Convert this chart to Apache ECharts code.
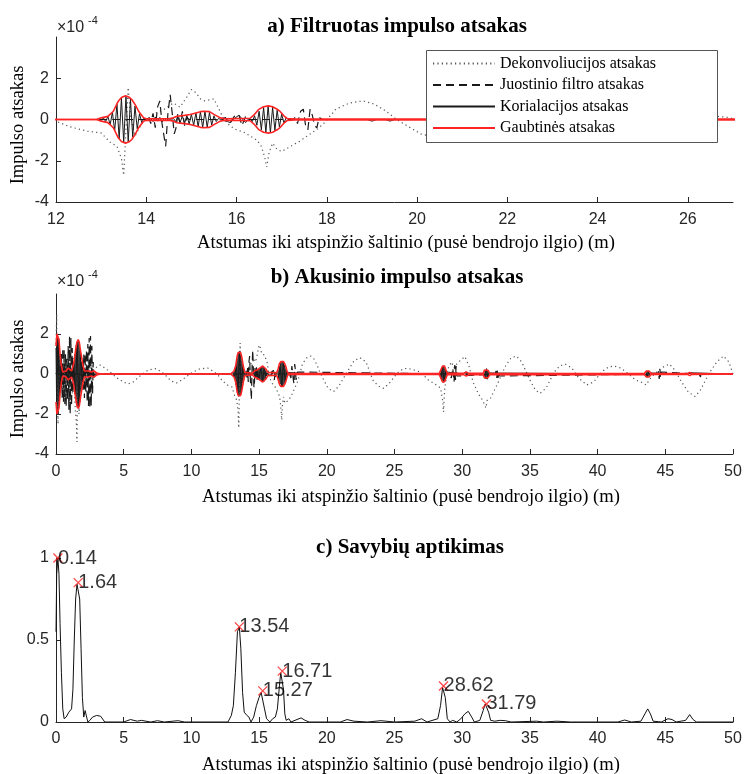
<!DOCTYPE html>
<html><head><meta charset="utf-8">
<script src="https://cdn.jsdelivr.net/npm/echarts@6/dist/echarts.min.js"></script>
<style>html,body{margin:0;padding:0;background:#fff}#c{width:744px;height:774px}</style>
</head><body><div id="c"></div>
<script>
// ---------- DATA ----------
const xTicksA = [12,14,16,18,20,22,24,26];
const yTicksAB = [-4,-2,0,2];
const xTicksBC = [0,5,10,15,20,25,30,35,40,45,50];
const yTicksC = [0,0.5,1];
const seriesNames = ['Dekonvoliucijos atsakas','Juostinio filtro atsakas','Korialacijos atsakas','Gaubtinės atsakas'];

// Dekonvoliucijos atsakas (x m, value x1e-4)
const dekData = [[0,1.5],[0.05,3.0],[0.1,-1.0],[0.15,-2.5],[0.2,1.2],[0.3,-0.8],[0.4,0.6],[0.5,-1.0],[0.6,0.5],[0.7,-0.8],[0.8,-1.2],[0.9,0.4],[1.0,-1.6],[1.1,0.3],[1.2,-1.0],[1.3,0.8],[1.4,-1.5],[1.5,-2.4],[1.55,-3.4],[1.6,0.5],[1.7,-2.0],[1.8,-0.5],[1.9,0.8],[2.0,-0.6],[2.1,0.3],[2.2,-0.4],[2.4,0.6],[2.5,-0.3],[2.6,0.9],[2.7,0.2],[2.9,0.3],[3.0,0.35],[3.25,0.45],[3.6,0.3],[4.0,0.1],[4.5,-0.2],[5.0,-0.4],[5.3,-0.5],[5.7,-0.4],[6.2,-0.1],[6.8,0.2],[7.4,0.27],[8.0,0.0],[8.5,-0.35],[8.9,-0.45],[9.4,-0.25],[10.0,0.05],[10.6,0.25],[11.2,0.3],[11.7,0.1],[12.0,-0.08],[12.3,-0.35],[12.7,-0.57],[13.0,-0.65],[13.2,-1.1],[13.35,-1.3],[13.45,-1.9],[13.5,-2.7],[13.55,-0.5],[13.6,1.55],[13.65,0.2],[13.75,-0.8],[13.9,-0.2],[14.0,0.0],[14.2,0.3],[14.4,0.5],[14.6,0.8],[14.75,0.6],[14.9,1.1],[15.0,1.45],[15.1,1.3],[15.2,1.0],[15.3,0.9],[15.4,0.95],[15.5,1.0],[15.6,0.55],[15.7,0.1],[15.85,-0.3],[16.0,-0.5],[16.15,-0.6],[16.3,-0.8],[16.45,-1.0],[16.55,-1.3],[16.62,-1.8],[16.67,-2.3],[16.72,-1.6],[16.8,-1.15],[16.9,-1.45],[17.0,-1.55],[17.2,-1.3],[17.4,-1.05],[17.6,-0.75],[17.8,-0.45],[17.95,-0.15],[18.2,0.5],[18.5,0.8],[18.8,0.9],[19.05,0.75],[19.3,0.42],[19.55,0.0],[19.85,-0.4],[20.1,-0.72],[20.5,-0.88],[20.9,-0.6],[21.5,0.1],[22.0,0.65],[22.45,0.82],[22.9,0.6],[23.4,-0.3],[23.8,-0.6],[24.2,-0.72],[24.7,-0.4],[25.2,0.05],[25.7,0.28],[26.2,0.25],[26.9,0.1],[27.5,-0.3],[28.1,-0.55],[28.4,-0.7],[28.55,-1.3],[28.62,-1.9],[28.7,-0.8],[28.9,0.2],[29.2,0.6],[29.4,0.3],[29.6,0.5],[29.9,0.7],[30.2,0.87],[30.5,0.4],[30.8,-0.4],[31.2,-1.0],[31.5,-1.3],[31.75,-1.7],[31.85,-1.3],[32.1,-1.2],[32.6,-0.5],[33.2,0.4],[33.6,0.8],[34.0,0.9],[34.4,0.6],[35.0,-0.3],[35.4,-0.8],[35.75,-0.97],[36.2,-0.7],[36.8,0.1],[37.2,0.4],[37.6,0.5],[38.1,0.3],[38.6,-0.2],[39.2,-0.55],[39.7,-0.4],[40.3,0.1],[40.8,0.35],[41.2,0.4],[41.7,0.3],[42.3,0.0],[42.8,-0.3],[43.2,-0.4],[43.6,-0.55],[43.8,-0.3],[44.2,0.0],[44.7,0.3],[45.0,0.4],[45.3,0.5],[45.7,0.2],[46.2,-0.4],[46.7,-0.9],[47.2,-1.13],[47.6,-0.8],[48.2,0.0],[48.8,0.6],[49.3,0.9],[49.7,0.6],[50.0,0.0]];

// Juostinio filtro atsakas
const juoData = [[0,0],[0.3,0.5],[0.35,-0.8],[0.4,1.0],[0.45,-1.2],[0.5,1.3],[0.55,-1.4],[0.6,1.2],[0.65,-1.5],[0.7,1.0],[0.75,-1.6],[0.8,0.8],[0.85,-1.3],[0.9,1.4],[0.95,-1.8],[1.0,1.9],[1.05,-2.0],[1.1,1.8],[1.15,-1.6],[1.2,1.3],[1.25,-1.0],[1.3,0.6],[1.35,0],[1.9,0],[1.95,0.4],[2.0,-0.8],[2.05,1.0],[2.1,-1.2],[2.15,1.0],[2.2,-0.9],[2.25,1.2],[2.3,-1.4],[2.35,1.5],[2.4,-1.6],[2.45,1.8],[2.5,-1.7],[2.55,1.9],[2.6,-1.6],[2.65,1.4],[2.7,-1.0],[2.75,0.6],[2.8,-0.3],[2.85,0],[14.0,0],[14.05,0.15],[14.1,-0.2],[14.15,0.3],[14.2,-0.4],[14.25,0.6],[14.3,0.9],[14.35,-0.2],[14.4,-0.9],[14.43,-1.3],[14.48,0.3],[14.53,1.2],[14.58,0.2],[14.62,-0.7],[14.66,-0.4],[14.7,0.3],[14.75,-0.2],[14.8,0.4],[14.85,-0.3],[14.9,0.1],[14.95,0],[15.7,0],[15.75,0.1],[15.85,-0.2],[15.95,0.15],[16.05,0.25],[16.12,-0.3],[16.2,0.15],[16.25,0],[17.25,0],[17.3,0.1],[17.35,-0.2],[17.42,0.4],[17.48,0.5],[17.53,-0.3],[17.58,-0.5],[17.63,0.5],[17.68,0.2],[17.73,-0.3],[17.78,-0.4],[17.83,0.1],[17.9,0],[29.05,0],[29.1,0.1],[29.2,-0.2],[29.3,0.3],[29.4,-0.4],[29.45,0.45],[29.5,-0.3],[29.55,0.4],[29.6,-0.1],[29.65,0],[32.45,0],[32.5,0.15],[32.55,-0.2],[32.6,0.2],[32.65,-0.2],[32.7,0.15],[32.75,-0.1],[32.8,0],[44.45,0],[44.5,0.15],[44.55,-0.25],[44.6,0.25],[44.65,-0.2],[44.7,0.1],[44.75,0],[47.5,0],[47.55,0.1],[47.6,-0.15],[47.65,0.12],[47.7,0],[50,0]];

// Korialacijos atsakas
const korData = [[0,1.3],[0.05,-1.8],[0.1,2.0],[0.15,-2.0],[0.2,1.8],[0.25,-1.4],[0.3,1.0],[0.35,-0.7],[0.4,0.4],[0.45,-0.2],[0.5,0.1],[0.55,-0.05],[0.6,0],[0.75,0],[0.8,0.15],[0.85,-0.2],[0.9,0.3],[0.95,-0.3],[1.0,0.2],[1.05,-0.15],[1.1,0.12],[1.15,-0.15],[1.2,0.2],[1.25,-0.35],[1.3,0.5],[1.35,-0.75],[1.4,1.0],[1.45,-1.25],[1.5,1.45],[1.55,-1.6],[1.6,1.7],[1.65,-1.7],[1.7,1.6],[1.75,-1.4],[1.8,1.15],[1.85,-0.9],[1.9,0.6],[1.95,-0.4],[2.0,0.25],[2.05,-0.12],[2.1,0.05],[2.15,0],[2.3,0.1],[2.35,-0.15],[2.4,0.15],[2.45,-0.12],[2.5,0.08],[2.55,-0.05],[2.6,0],[3.0,0],[12.9,0],[12.95,0.04],[13.0,-0.06],[13.05,0.08],[13.1,-0.1],[13.15,0.15],[13.2,-0.25],[13.25,0.35],[13.3,-0.55],[13.35,0.75],[13.4,-0.95],[13.45,1.05],[13.5,-1.12],[13.55,1.13],[13.6,-1.08],[13.65,0.98],[13.7,-0.85],[13.75,0.65],[13.8,-0.45],[13.85,0.28],[13.9,-0.15],[13.95,0.08],[14.0,-0.03],[14.05,0],[14.1,0.05],[14.15,-0.1],[14.2,0.12],[14.25,-0.08],[14.3,0.1],[14.35,-0.12],[14.4,0.06],[14.45,-0.05],[14.5,0.04],[14.55,-0.04],[14.6,0.06],[14.65,-0.1],[14.7,0.12],[14.75,-0.14],[14.8,0.16],[14.85,-0.18],[14.9,0.2],[14.95,-0.22],[15.0,0.25],[15.05,-0.28],[15.1,0.32],[15.15,-0.35],[15.2,0.38],[15.25,-0.4],[15.3,0.4],[15.35,-0.38],[15.4,0.34],[15.45,-0.27],[15.5,0.18],[15.55,-0.1],[15.6,0.05],[15.65,0],[15.8,-0.1],[15.86,-0.15],[15.95,0.05],[16.05,0.2],[16.1,0.1],[16.2,-0.15],[16.25,0],[16.3,0.05],[16.35,-0.1],[16.4,0.18],[16.45,-0.28],[16.5,0.4],[16.55,-0.5],[16.6,0.58],[16.65,-0.63],[16.7,0.65],[16.75,-0.64],[16.8,0.6],[16.85,-0.53],[16.9,0.45],[16.95,-0.36],[17.0,0.26],[17.05,-0.16],[17.1,0.08],[17.15,0],[18.9,0],[19.0,-0.08],[19.1,0],[19.3,0],[19.4,-0.08],[19.5,0],[28.3,0],[28.35,0.05],[28.4,-0.12],[28.45,0.22],[28.5,-0.32],[28.55,0.4],[28.6,-0.42],[28.65,0.42],[28.7,-0.38],[28.75,0.3],[28.8,-0.2],[28.85,0.1],[28.9,0],[30.1,0],[30.15,0.06],[30.2,-0.08],[30.25,0.1],[30.3,-0.1],[30.35,0.08],[30.4,-0.05],[30.45,0],[31.55,0],[31.6,0.05],[31.65,-0.12],[31.7,0.2],[31.75,-0.25],[31.8,0.27],[31.85,-0.26],[31.9,0.2],[31.95,-0.12],[32.0,0.05],[32.05,0],[43.5,0],[43.55,0.06],[43.6,-0.12],[43.65,0.15],[43.7,-0.16],[43.75,0.14],[43.8,-0.1],[43.85,0.05],[43.9,0],[46.7,0],[46.75,0.05],[46.8,-0.07],[46.85,0.06],[46.9,0],[50,0]];

// Gaubtinės atsakas: [x, upper, lower]
const envData = [[0,1.4,-1.4],[0.07,2.0,-2.0],[0.14,2.1,-2.05],[0.22,1.7,-1.7],[0.3,1.0,-1.0],[0.4,0.4,-0.4],[0.5,0.1,-0.1],[0.6,0.05,-0.05],[0.75,0.15,-0.15],[0.9,0.3,-0.3],[1.0,0.2,-0.2],[1.15,0.15,-0.15],[1.3,0.5,-0.5],[1.45,1.2,-1.2],[1.55,1.6,-1.6],[1.64,1.72,-1.72],[1.72,1.6,-1.6],[1.85,1.0,-1.0],[2.0,0.4,-0.4],[2.1,0.15,-0.15],[2.2,0.05,-0.05],[2.4,0.15,-0.15],[2.6,0.1,-0.1],[2.8,0.15,-0.15],[3.0,0.05,-0.05],[3.3,0,0],[12.9,0,0],[13.0,0.08,-0.08],[13.15,0.15,-0.15],[13.27,0.4,-0.4],[13.38,0.89,-0.89],[13.45,1.07,-1.07],[13.54,1.15,-1.15],[13.62,1.08,-1.08],[13.68,0.97,-0.97],[13.76,0.7,-0.7],[13.83,0.4,-0.4],[13.94,0.08,-0.08],[14.0,0.04,-0.04],[14.5,0.04,-0.04],[14.6,0.08,-0.08],[14.68,0.16,-0.16],[14.85,0.2,-0.2],[14.97,0.24,-0.24],[15.1,0.32,-0.32],[15.2,0.38,-0.38],[15.27,0.4,-0.4],[15.4,0.38,-0.38],[15.5,0.25,-0.25],[15.64,0.08,-0.08],[15.75,0.04,-0.04],[16.3,0.06,-0.06],[16.4,0.25,-0.25],[16.49,0.49,-0.49],[16.6,0.62,-0.62],[16.71,0.66,-0.66],[16.8,0.62,-0.62],[16.9,0.5,-0.5],[16.97,0.38,-0.38],[17.05,0.18,-0.18],[17.12,0.05,-0.05],[17.3,0.02,-0.02],[28.3,0.02,-0.02],[28.45,0.25,-0.25],[28.55,0.4,-0.4],[28.62,0.43,-0.43],[28.7,0.38,-0.38],[28.8,0.2,-0.2],[28.9,0.03,-0.03],[30.1,0.03,-0.03],[30.3,0.1,-0.1],[30.5,0.03,-0.03],[31.55,0.03,-0.03],[31.65,0.2,-0.2],[31.79,0.27,-0.27],[31.9,0.18,-0.18],[32.05,0.03,-0.03],[43.45,0.02,-0.02],[43.6,0.15,-0.15],[43.7,0.18,-0.18],[43.8,0.15,-0.15],[43.95,0.02,-0.02],[46.65,0.02,-0.02],[46.8,0.08,-0.08],[46.95,0.02,-0.02],[50,0,0]];

// Savybių aptikimas
const featData = [[0,0.55],[0.05,0.9],[0.14,1.0],[0.22,0.9],[0.3,0.6],[0.4,0.3],[0.5,0.08],[0.6,0.02],[0.75,0.03],[0.85,0.02],[0.95,0.06],[1.05,0.07],[1.15,0.08],[1.25,0.2],[1.35,0.5],[1.45,0.75],[1.55,0.84],[1.64,0.85],[1.75,0.75],[1.85,0.45],[1.95,0.15],[2.05,0.03],[2.15,0.07],[2.25,0.06],[2.35,0.0],[2.5,0.01],[2.7,0.03],[3.0,0.04],[3.3,0.035],[3.6,0.0],[5.0,0.0],[5.5,0.015],[6.0,0.005],[6.3,0.01],[7.0,0.0],[7.5,0.008],[8.0,0.0],[9.0,0.008],[9.5,0.0],[12.7,0.0],[12.95,0.04],[13.1,0.1],[13.25,0.3],[13.4,0.55],[13.54,0.58],[13.65,0.45],[13.78,0.18],[13.9,0.06],[14.0,0.07],[14.1,0.04],[14.25,0.03],[14.4,0.0],[14.6,0.03],[14.8,0.1],[15.0,0.15],[15.15,0.18],[15.27,0.19],[15.4,0.08],[15.55,0.02],[15.8,0.0],[16.0,0.02],[16.2,0.03],[16.35,0.08],[16.5,0.22],[16.6,0.3],[16.71,0.31],[16.8,0.2],[16.9,0.05],[17.0,0.01],[17.2,0.02],[17.35,0.0],[17.8,0.015],[18.1,0.025],[18.4,0.01],[18.7,0.0],[21.0,0.0],[21.5,0.015],[22.0,0.005],[23.0,0.0],[24.0,0.008],[25.0,0.0],[26.5,0.005],[27.0,0.02],[27.4,0.0],[28.2,0.02],[28.4,0.1],[28.55,0.21],[28.62,0.22],[28.75,0.15],[28.9,0.02],[29.1,0.0],[29.3,0.01],[29.6,0.0],[29.9,0.02],[30.2,0.05],[30.45,0.065],[30.7,0.03],[30.9,0.0],[31.3,0.01],[31.55,0.07],[31.7,0.11],[31.79,0.11],[31.95,0.06],[32.1,0.01],[32.4,0.005],[32.8,0.01],[33.2,0.008],[33.6,0.0],[35.5,0.005],[36,0.0],[37,0.005],[38,0.0],[41.5,0.0],[42,0.012],[42.5,0.0],[43.2,0.005],[43.5,0.05],[43.7,0.08],[43.9,0.05],[44.1,0.005],[44.7,0.0],[45.2,0.02],[45.5,0.015],[45.8,0.0],[46.5,0.01],[46.8,0.045],[47.05,0.015],[47.3,0.0],[50,0.0]];

const peakX = [0.14, 1.64, 13.54, 15.27, 16.71, 28.62, 31.79];
const peakY = [1.0, 0.85, 0.58, 0.19, 0.31, 0.22, 0.11];

// ---------- CHART ----------
const SANS = 'Liberation Sans, Arial, sans-serif';
const SERIF = 'Liberation Serif, Times New Roman, serif';
const AX = '#262626';

function xAxisCfg(gi, min, max, ticks, margin) {
  return { type:'value', gridIndex:gi, min:min, max:max,
    axisLine:{show:true, onZero:false, lineStyle:{color:AX, width:1}},
    axisTick:{show:true, inside:true, length:5, customValues:ticks, lineStyle:{color:AX}},
    axisLabel:{customValues:ticks, margin:margin, fontFamily:SANS, fontSize:16, color:AX},
    splitLine:{show:false} };
}
function yAxisCfg(gi, min, max, ticks) {
  return { type:'value', gridIndex:gi, min:min, max:max,
    axisLine:{show:true, onZero:false, lineStyle:{color:AX, width:1}},
    axisTick:{show:true, inside:true, length:5, customValues:ticks, lineStyle:{color:AX}},
    axisLabel:{customValues:ticks, margin:7, fontFamily:SANS, fontSize:16, color:AX},
    splitLine:{show:false} };
}

const styles = {
  dek: {color:'#555555', width:1.2, type:[1.2,3.2]},
  juo: {color:'#1a1a1a', width:1.2, type:[8,5]},
  kor: {color:'#1a1a1a', width:1, type:'solid'},
  env: {color:'#ff2424', width:1.6, type:'solid'}
};

function lineSeries(name, data, st, xi, yi, z) {
  return { type:'line', name:name, data:data, xAxisIndex:xi, yAxisIndex:yi,
    symbol:'none', showSymbol:false, smooth:false, animation:false, z:z,
    lineStyle:{color:st.color, width:st.width, type:st.type}, itemStyle:{color:st.color},
    emphasis:{disabled:true}, silent:true };
}

const series = [];
[0,1].forEach(function(i){
  series.push(lineSeries(seriesNames[0], dekData, styles.dek, i, i, 2));
  series.push(lineSeries(seriesNames[1], juoData, styles.juo, i, i, 3));
  series.push(lineSeries(seriesNames[2], korData, styles.kor, i, i, 4));
  series.push(lineSeries(seriesNames[3], envData.map(function(p){return [p[0],p[1]];}), styles.env, i, i, 5));
  series.push(lineSeries(seriesNames[3], envData.map(function(p){return [p[0],p[2]];}), styles.env, i, i, 5));
});
series.push(lineSeries('Savybės', featData, {color:'#111', width:1, type:'solid'}, 2, 2, 3));
series.push({ type:'scatter', name:'Smailės', xAxisIndex:2, yAxisIndex:2, z:6, animation:false, silent:true,
  data: peakX.map(function(x,i){return [x, peakY[i]];}),
  symbol:'path://M0,0L10,10M10,0L0,10', symbolSize:9,
  itemStyle:{color:'none', borderColor:'#ff1a1a', borderWidth:1.3},
  label:{show:true, position:'right', distance:-7, fontFamily:SANS, fontSize:20, color:'#000',
    formatter:function(p){return p.value[0].toFixed(2);}}
});

function txt(x, y, s, font, size, weight, opts) {
  return Object.assign({ type:'text', x:x, y:y, z:30, silent:true,
    style:{ text:s, fontFamily:font, fontSize:size, fontWeight:weight||'normal', fill:'#000',
      textAlign:'center', textVerticalAlign:'middle' } }, opts||{});
}
const XNAME = 'Atstumas iki atspinžio šaltinio (pusė bendrojo ilgio) (m)';
const graphics = [
  txt(397, 27, 'a) Filtruotas impulso atsakas', SERIF, 21, 'bold'),
  txt(397, 278, 'b) Akusinio impulso atsakas', SERIF, 21, 'bold'),
  txt(410, 548, 'c) Savybių aptikimas', SERIF, 21, 'bold'),
  txt(406, 243, XNAME, SERIF, 18.6),
  txt(411, 497, XNAME, SERIF, 18.6),
  txt(411, 765, XNAME, SERIF, 18.6),
  txt(18, 125, 'Impulso atsakas', SERIF, 18.5, 'normal', {rotation:Math.PI/2}),
  txt(18, 379, 'Impulso atsakas', SERIF, 18.5, 'normal', {rotation:Math.PI/2}),
  {type:'text', x:57, y:28, z:30, silent:true, style:{text:'×10', fontFamily:SANS, fontSize:16, fill:AX, textVerticalAlign:'middle'}},
  {type:'text', x:88, y:21, z:30, silent:true, style:{text:'-4', fontFamily:SANS, fontSize:11, fill:AX, textVerticalAlign:'middle'}},
  {type:'text', x:57, y:282, z:30, silent:true, style:{text:'×10', fontFamily:SANS, fontSize:16, fill:AX, textVerticalAlign:'middle'}},
  {type:'text', x:88, y:275, z:30, silent:true, style:{text:'-4', fontFamily:SANS, fontSize:11, fill:AX, textVerticalAlign:'middle'}},
  {type:'rect', z:10, silent:true, shape:{x:426.5, y:50.5, width:291, height:92}, style:{fill:'#fff', stroke:'#555', lineWidth:1}}
];

const chart = echarts.init(document.getElementById('c'), null, {renderer:'canvas'});
chart.setOption({
  backgroundColor:'#fff',
  animation:false,
  grid:[
    {left:56, top:37, width:677, height:165, outerBoundsMode:'none'},
    {left:56, top:294, width:677, height:160, outerBoundsMode:'none'},
    {left:56, top:558, width:677, height:164, outerBoundsMode:'none'}
  ],
  xAxis:[ xAxisCfg(0,12,27,xTicksA,10), xAxisCfg(1,0,50,xTicksBC,10), xAxisCfg(2,0,50,xTicksBC,9) ],
  yAxis:[ yAxisCfg(0,-4,4,yTicksAB), yAxisCfg(1,-4,4,yTicksAB), yAxisCfg(2,0,1,yTicksC) ],
  legend:{ data:seriesNames, orient:'vertical', left:432, top:55.5, z:20, selectedMode:false,
    itemWidth:62, itemHeight:10, itemGap:5.5, padding:0,
    itemStyle:{opacity:0},
    textStyle:{fontFamily:SERIF, fontSize:16, color:'#000'} },
  graphic: graphics,
  series: series
});
</script>
</body></html>
